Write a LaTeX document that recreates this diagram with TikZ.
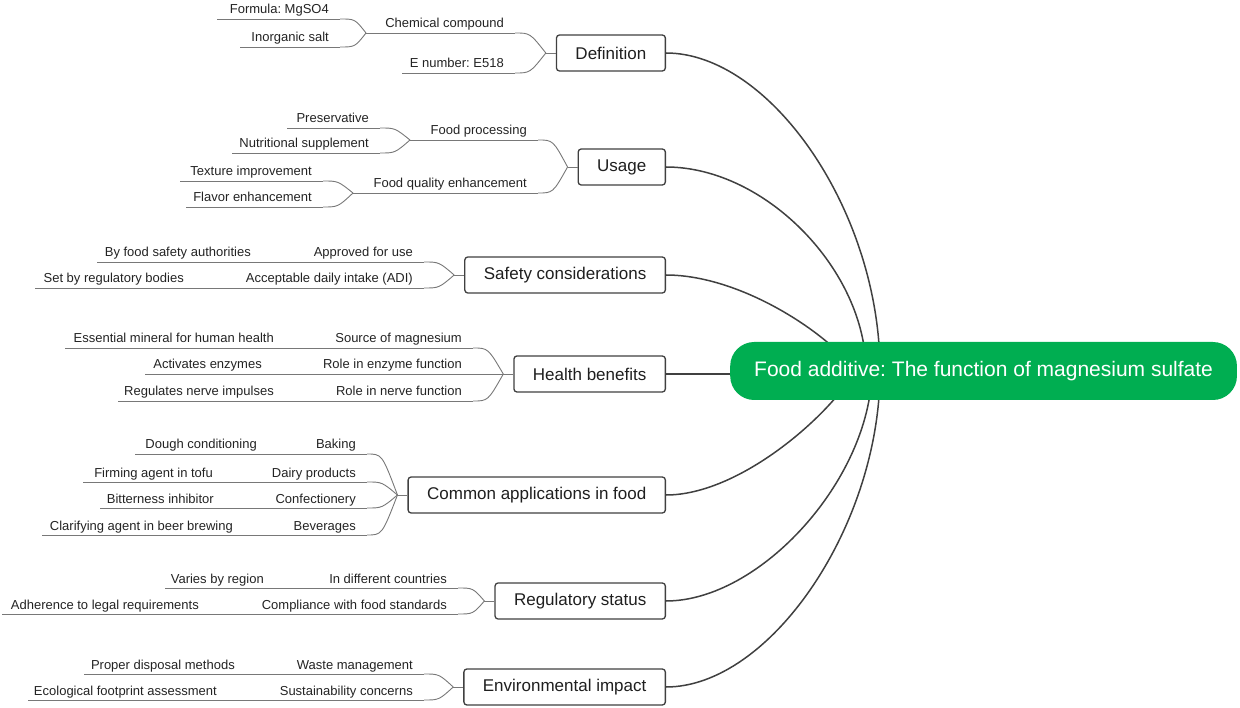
\documentclass[tikz,border=0pt]{standalone}
\usepackage{fontspec}
\setmainfont{Liberation Sans}
\usepackage{tikz}
\frenchspacing

\definecolor{rootgreen}{RGB}{0,174,81}
\definecolor{boxline}{RGB}{64,64,64}
\definecolor{leafline}{RGB}{120,120,120}
\definecolor{leaftext}{RGB}{35,35,35}

\begin{document}
\begin{tikzpicture}[x=1pt,y=-1pt,
    root/.style={fill=rootgreen, text=white, rounded corners=24pt, minimum height=58pt, inner xsep=24pt, font=\fontsize{21}{25}\selectfont},
    topic/.style={draw=boxline, line width=1.3pt, fill=white, rounded corners=3pt, minimum height=36pt, inner xsep=19pt, text=black!88, anchor=east, font=\fontsize{17}{20}\selectfont},
    leaf/.style={inner sep=0pt, anchor=base east, text=leaftext, font=\fontsize{13}{15}\selectfont},
    uline/.style={draw=leafline, line width=0.9pt},
    twig/.style={draw=leafline, line width=0.9pt},
    trunk/.style={draw=boxline, line width=1.5pt}]

            \useasboundingbox (0,0) rectangle (1240,708);

            % Main branches
            \node[topic] (def) at (666,53) {Definition};
            \node[topic] (use) at (666,167) {Usage};
            \node[topic] (safe) at (666,275) {Safety considerations};
            \node[topic] (hlth) at (666,374) {Health benefits};
            \node[topic] (apps) at (666,495) {Common applications in food};
            \node[topic] (regs) at (666,601) {Regulatory status};
            \node[topic] (env) at (666,687) {Environmental impact};

            % Where the sub-branches meet
            \foreach \b in {def,use,safe,hlth,apps,regs,env}
                \coordinate (j\b) at ([xshift=-10pt]\b.west);

            % Sub-branches: name/left/right/y/text
            \foreach \nm/\l/\r/\y/\txt in {
                chem/366/515/33/Chemical compound,
                enum/402/515/73/E number: E518,
                formula/217/340/19/Formula: MgSO4,
                inorg/240/340/47/Inorganic salt,
                proc/410/538/140/Food processing,
                qual/353/538/193/Food quality enhancement,
                pres/287/380/128/Preservative,
                nutr/232/380/153/Nutritional supplement,
                textr/180/323/181/Texture improvement,
                flav/186/323/207/Flavor enhancement,
                appr/262/424/262/Approved for use,
                adi/195/424/288/Acceptable daily intake (ADI),
                auth/97/262/262/By food safety authorities,
                setby/35/195/288/Set by regulatory bodies,
                src/285/473/348/Source of magnesium,
                enz/273/473/374/Role in enzyme function,
                nerve/285/473/401/Role in nerve function,
                ess/65/285/348/Essential mineral for human health,
                act/145/273/374/Activates enzymes,
                reg/118/285/401/Regulates nerve impulses,
                bak/268/367/454/Baking,
                dairy/224/367/482/Dairy products,
                conf/225/367/508/Confectionery,
                bev/244/367/535/Beverages,
                dough/135/268/454/Dough conditioning,
                firm/83/224/482/Firming agent in tofu,
                bitter/100/225/508/Bitterness inhibitor,
                clar/42/244/535/Clarifying agent in beer brewing,
                ctry/275/458/588/In different countries,
                comp/210/458/614/Compliance with food standards,
                vary/165/275/588/Varies by region,
                adh/2/210/614/Adherence to legal requirements,
                waste/246/424/674/Waste management,
                sust/228/424/700/Sustainability concerns,
                disp/84/246/674/Proper disposal methods,
                eco/28/228/700/Ecological footprint assessment}
            {
                \node[leaf] (\nm) at (\r-11,\y-5) {\txt};
                \coordinate (\nm-l) at (\l,\y);
                \coordinate (\nm-r) at (\r,\y);
                \draw[uline] (\nm-l) -- (\nm-r);
            }

            % Bends into the junctions
            \foreach \a/\b in {formula-r/chem-l, inorg-r/chem-l, pres-r/proc-l, nutr-r/proc-l,
                textr-r/qual-l, flav-r/qual-l, chem-r/jdef, enum-r/jdef, proc-r/juse, qual-r/juse,
                appr-r/jsafe, adi-r/jsafe, src-r/jhlth, enz-r/jhlth, nerve-r/jhlth,
                bak-r/japps, dairy-r/japps, conf-r/japps, bev-r/japps,
                ctry-r/jregs, comp-r/jregs, waste-r/jenv, sust-r/jenv}
                \draw[twig] (\a) .. controls +(15,0) .. (\b);
            \foreach \b in {def,use,safe,hlth,apps,regs,env}
                \draw[twig] (j\b) -- (\b.west);

            % Curves to the centre (the root covers their ends)
            \coordinate (hdef) at (880,371);
            \coordinate (huse) at (866,371);
            \coordinate (hsafe) at (855,371);
            \coordinate (happs) at (855,371);
            \coordinate (hregs) at (872,371);
            \coordinate (henv) at (880,371);
            \draw[trunk] (def.east) .. controls +(104,0) and +(0,-160) .. (hdef);
            \draw[trunk] (use.east) .. controls +(100,0) and +(0,-100) .. (huse);
            \draw[trunk] (safe.east) .. controls +(76,0) and +(-25,-36) .. (hsafe);
            \draw[trunk] (apps.east) .. controls +(74,0) and +(-25,44) .. (happs);
            \draw[trunk] (regs.east) .. controls +(94,0) and +(-2,109) .. (hregs);
            \draw[trunk] (env.east) .. controls +(104,0) and +(0,155) .. (henv);

            % Central topic
            \node[root, anchor=west] (root) at (730,371) {Food additive: The function of magnesium sulfate};
            \draw[trunk] (hlth.east) -- (hlth.east -| root.west);

        \end{tikzpicture}
\end{document}
